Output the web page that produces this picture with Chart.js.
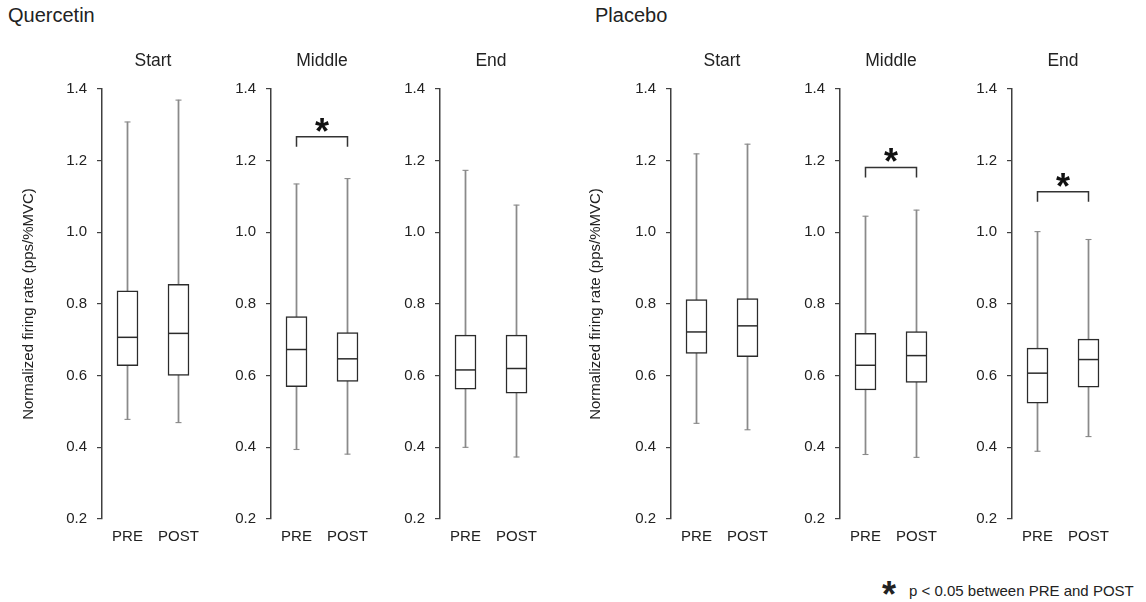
<!DOCTYPE html>
<html>
<head>
<meta charset="utf-8">
<script src="https://cdn.jsdelivr.net/npm/chart.js@4.4.1/dist/chart.umd.min.js"></script>
<style>
  html, body { margin: 0; padding: 0; background: #fff; }
  body { width: 1146px; height: 602px; position: relative; overflow: hidden;
         font-family: 'Liberation Sans', Arial, sans-serif; color: #222; }
  canvas { position: absolute; top: 0; }
  .grp { position: absolute; top: 5px; font-size: 20px; line-height: 20px; white-space: nowrap; }
  #legStar { position: absolute; left: 882px; top: 577px; font: bold 36px/36px 'Liberation Sans', Arial, sans-serif; }
  #legText { position: absolute; left: 909px; top: 582px; font-size: 15px; line-height: 18px; white-space: nowrap; }
</style>
</head>
<body>
<div class="grp" id="g0" style="left:8px"></div>
<div class="grp" id="g1" style="left:595px"></div>
<div id="legStar">*</div>
<div id="legText"></div>
<script>
// ---------------- data ----------------
const groups = ['Quercetin', 'Placebo'];
const panelTitles = ['Start', 'Middle', 'End', 'Start', 'Middle', 'End'];
const categories = ['PRE', 'POST'];
const yTickValues = [0.2, 0.4, 0.6, 0.8, 1.0, 1.2, 1.4];
const yAxisTitle = 'Normalized firing rate (pps/%MVC)';
const legendText = 'p < 0.05 between PRE and POST';

// per panel: [PRE, POST]
const whiskerLow  = [[0.478, 0.469], [0.394, 0.381], [0.400, 0.373], [0.467, 0.449], [0.380, 0.372], [0.389, 0.430]];
const q1          = [[0.628, 0.601], [0.569, 0.584], [0.562, 0.551], [0.662, 0.653], [0.560, 0.581], [0.523, 0.568]];
const median      = [[0.707, 0.718], [0.673, 0.647], [0.616, 0.620], [0.722, 0.739], [0.629, 0.656], [0.607, 0.645]];
const q3          = [[0.837, 0.855], [0.765, 0.720], [0.713, 0.713], [0.812, 0.815], [0.718, 0.723], [0.677, 0.702]];
const whiskerHigh = [[1.308, 1.369], [1.135, 1.150], [1.173, 1.076], [1.219, 1.246], [1.045, 1.062], [1.002, 0.980]];
const bracketLevel = [null, 1.267, null, null, 1.181, 1.113];

// ---------------- layout ----------------
const canvasLeft = [12, 181, 350, 581, 750, 922];
const Y_AXIS_W = 90;
const FONT = "'Liberation Sans', Arial, sans-serif";
Chart.defaults.font.family = FONT;
Chart.defaults.color = '#222';

document.getElementById('g0').textContent = groups[0];
document.getElementById('g1').textContent = groups[1];
document.getElementById('legText').textContent = legendText;

const boxExtras = {
  id: 'boxExtras',
  afterDatasetsDraw(chart, args, opts) {
    const p = opts.panel;
    const xs = chart.scales.x, ys = chart.scales.y;
    const ctx = chart.ctx;
    ctx.save();
    categories.forEach((c, i) => {
      const cx = xs.getPixelForValue(i);
      ctx.strokeStyle = '#8a8a8a';
      ctx.lineWidth = 1.1;
      [whiskerLow[p][i], whiskerHigh[p][i]].forEach(v => {
        const yy = ys.getPixelForValue(v);
        ctx.beginPath(); ctx.moveTo(cx - 3, yy); ctx.lineTo(cx + 3, yy); ctx.stroke();
      });
      ctx.strokeStyle = '#2b2b2b';
      ctx.lineWidth = 1.5;
      const my = ys.getPixelForValue(median[p][i]);
      ctx.beginPath(); ctx.moveTo(cx - 10, my); ctx.lineTo(cx + 10, my); ctx.stroke();
    });
    const lvl = bracketLevel[p];
    if (lvl !== null) {
      const x0 = xs.getPixelForValue(0), x1 = xs.getPixelForValue(1);
      const y0 = ys.getPixelForValue(lvl);
      ctx.strokeStyle = '#333';
      ctx.lineWidth = 1.5;
      ctx.beginPath();
      ctx.moveTo(x0, y0 + 10); ctx.lineTo(x0, y0); ctx.lineTo(x1, y0); ctx.lineTo(x1, y0 + 10);
      ctx.stroke();
      ctx.font = 'bold 36px ' + FONT;
      ctx.fillStyle = '#111';
      ctx.textAlign = 'left';
      ctx.textBaseline = 'alphabetic';
      const m = ctx.measureText('*');
      const cxm = (x0 + x1) / 2, cym = y0 - 12;
      const tx = cxm - (m.actualBoundingBoxRight - m.actualBoundingBoxLeft) / 2;
      const ty = cym + (m.actualBoundingBoxAscent - m.actualBoundingBoxDescent) / 2;
      ctx.fillText('*', tx, ty);
    }
    ctx.restore();
  }
};

panelTitles.forEach((title, p) => {
  const cv = document.createElement('canvas');
  cv.width = 202; cv.height = 602;
  cv.style.left = canvasLeft[p] + 'px';
  document.body.appendChild(cv);
  new Chart(cv, {
    type: 'bar',
    data: {
      labels: categories,
      datasets: [
        {
          label: 'whisker',
          data: categories.map((c, i) => [whiskerLow[p][i], whiskerHigh[p][i]]),
          backgroundColor: '#8a8a8a', borderWidth: 0,
          barThickness: 1.1, grouped: false, order: 2
        },
        {
          label: 'box',
          data: categories.map((c, i) => [q1[p][i], q3[p][i]]),
          backgroundColor: '#ffffff', borderColor: '#2b2b2b', borderWidth: 1.5,
          borderSkipped: false, barThickness: 21, grouped: false, order: 1
        }
      ]
    },
    options: {
      responsive: false, animation: false, maintainAspectRatio: false,
      layout: { padding: { left: 0, right: 10, top: 0, bottom: 43 } },
      plugins: {
        legend: { display: false },
        tooltip: { enabled: false },
        title: {
          display: true, text: title, fullSize: false, color: '#222',
          font: { size: 17.5, weight: 'normal' },
          padding: { top: 50.5, bottom: 17.5 }
        },
        boxExtras: { panel: p }
      },
      scales: {
        x: {
          type: 'category', offset: true,
          grid: { display: false }, border: { display: false },
          ticks: { font: { size: 15 }, color: '#222', padding: 1 },
          afterFit(s) { s.height = 40; }
        },
        y: {
          min: 0.2, max: 1.4,
          afterBuildTicks(s) { s.ticks = yTickValues.map(v => ({ value: v })); },
          ticks: { font: { size: 15 }, color: '#222', padding: 10, callback: v => Number(v).toFixed(1) },
          grid: { drawOnChartArea: false, drawTicks: true, tickLength: 5, color: '#404040', lineWidth: 1.2 },
          border: { display: true, color: '#404040', width: 1.5 },
          title: {
            display: p % 3 === 0, text: yAxisTitle, color: '#222',
            font: { size: 15 }, padding: { top: p === 0 ? 8 : 6, bottom: 0 }
          },
          afterFit(s) { s.width = Y_AXIS_W; }
        }
      }
    },
    plugins: [boxExtras]
  });
});
</script>
</body>
</html>
